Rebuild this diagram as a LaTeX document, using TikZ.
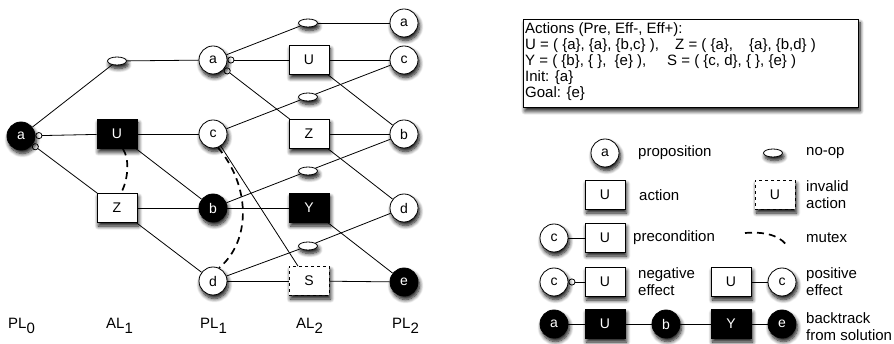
\documentclass[tikz,border=0pt]{standalone}
\usepackage{fontspec}
\setmainfont{Liberation Sans}
\usetikzlibrary{arrows.meta,shapes.geometric,shadows.blur}
\begin{document}
\begin{tikzpicture}[x=1pt,y=-1pt,
  shad/.style={blur shadow={shadow blur steps=8, shadow xshift=1.5pt, shadow yshift=-3.5pt, shadow blur radius=4pt, shadow opacity=95}},
  prop/.style={shad, circle, draw, line width=0.8pt, fill=white, minimum size=28pt, inner sep=0pt, font=\fontsize{14}{14}\selectfont},
  propsol/.style={prop, fill=black, text=white},
  act/.style={shad, rectangle, draw, line width=0.8pt, fill=white, minimum width=40pt, minimum height=29pt, inner sep=0pt, font=\fontsize{14}{14}\selectfont},
  actsol/.style={act, fill=black, text=white},
  actinv/.style={act, dashed},
  noop/.style={shad, ellipse, draw, line width=0.8pt, fill=white, minimum width=19pt, minimum height=8pt, inner sep=0pt},
  edge/.style={line width=0.8pt},
  negedge/.style={edge, {Circle[open, length=7pt, width=7pt]}-},
  mutexline/.style={line width=1.7pt, dash pattern=on 7pt off 5pt},
  lbl/.style={font=\fontsize{15}{17}\selectfont, align=left, anchor=west, inner sep=0pt},
  lvl/.style={font=\fontsize{15}{15}\selectfont, inner sep=0pt, anchor=base west},
]
\useasboundingbox (0,0) rectangle (894,344);

% ---- graph nodes ----
\node[propsol] (a0) at (21,136) {a};

\node[noop] (n1) at (117,61) {};
\node[actsol] (U1) at (117,134) {U};
\node[act] (Z1) at (117,208) {Z};

\node[prop] (a1) at (213,60) {a};
\node[prop] (c1) at (213,134) {c};
\node[propsol] (b1) at (213,208) {b};
\node[prop] (d1) at (213,281) {d};

\node[noop] (n2a) at (308,23) {};
\node[act] (U2) at (309,60) {U};
\node[noop] (n2c) at (308,97) {};
\node[act] (Z2) at (309,134) {Z};
\node[noop] (n2b) at (308,171) {};
\node[actsol] (Y2) at (309,208) {Y};
\node[noop] (n2d) at (308,246) {};
\node[actinv] (S2) at (309,281) {S};

\node[prop] (a2) at (404,23) {a};
\node[prop] (c2) at (404,60) {c};
\node[prop] (b2) at (404,134) {b};
\node[prop] (d2) at (404,208) {d};
\node[propsol] (e2) at (404,282) {e};

% ---- graph edges ----
\draw[edge] (a0) -- (n1);
\draw[negedge] (a0) -- (U1);
\draw[negedge] (a0) -- (Z1);
\draw[edge] (n1) -- (a1);
\draw[edge] (U1) -- (c1);
\draw[edge] (U1) -- (b1);
\draw[edge] (Z1) -- (b1);
\draw[edge] (Z1) -- (d1);

\draw[edge] (a1) -- (n2a);
\draw[negedge] (a1) -- (U2);
\draw[negedge] (a1) -- (Z2);
\draw[edge] (c1) -- (n2c);
\draw[edge] (c1) -- ([xshift=-11pt]S2.north);
\draw[edge] (b1) -- (n2b);
\draw[edge] (b1) -- (Y2);
\draw[edge] (d1) -- (n2d);
\draw[edge] (d1) -- (S2);

\draw[edge] (n2a) -- (a2);
\draw[edge] (U2) -- (c2);
\draw[edge] (U2) -- (b2);
\draw[edge] (n2c) -- (c2);
\draw[edge] (Z2) -- (b2);
\draw[edge] (Z2) -- (d2);
\draw[edge] (n2b) -- (b2);
\draw[edge] (Y2) -- (e2);
\draw[edge] (n2d) -- (d2);
\draw[edge] (S2) -- (e2);

% mutexes
\draw[mutexline] ([xshift=6pt]U1.south) .. controls (130,160) and (128,180) .. ([xshift=4pt]Z1.north);
\draw[mutexline] (c1.-70) .. controls (250,185) and (252,240) .. (d1.65);

% level labels
\node[lvl] (l0) at (8,329) {PL\raisebox{-5pt}{0}};
\node[lvl] (l1) at (106,329) {AL\raisebox{-5pt}{1}};
\node[lvl] (l2) at (200,329) {PL\raisebox{-5pt}{1}};
\node[lvl] (l3) at (296,329) {AL\raisebox{-5pt}{2}};
\node[lvl] (l4) at (392,329) {PL\raisebox{-5pt}{2}};

% ---- text box ----
\node[shad, draw, line width=1pt, fill=white, minimum width=335pt, minimum height=88pt, anchor=north west, inner sep=0pt] (tbox) at (523,19) {};
\node[anchor=north west, inner sep=0pt, align=left, font=\fontsize{15}{16}\selectfont] (ttext) at (525,22.5) {%
Actions (Pre, Eff-, Eff+):\\
\makebox[150pt][l]{U = ( \{a\}, \{a\}, \{b,c\} ),}Z = ( \{a\},\hspace{16pt}\{a\}, \{b,d\} )\\
\makebox[142pt][l]{Y = ( \{b\}, \{ \},\hspace{4pt} \{e\} ),}S = ( \{c, d\}, \{ \}, \{e\} )\\
Init: \{a\}\\
Goal: \{e\}};

% ---- legend ----
\node[prop] (lgA) at (605,153) {a};
\node[lbl] (tA) at (638,153) {proposition};
\node[noop] (lgN) at (773,153) {};
\node[lbl] (tN) at (806,153) {no-op};

\node[act] (lgU) at (605,195) {U};
\node[lbl] (tU) at (639,195) {action};
\node[actinv] (lgI) at (775,195) {U};
\node[lbl] (tI) at (806,195) {invalid\\action};

\node[prop] (lgPc) at (554,238) {c};
\node[act] (lgPu) at (605,238) {U};
\draw[edge] (lgPc) -- (lgPu);
\node[lbl] (tP) at (633,238) {precondition};
\coordinate (mx1) at (745,233);
\coordinate (mx2) at (788,247);
\draw[mutexline] (mx1) .. controls (770,231) and (782,238) .. (mx2);
\node[lbl] (tM) at (806,238) {mutex};

\node[prop] (lgNc) at (554,282) {c};
\node[act] (lgNu) at (605,282) {U};
\draw[negedge] (lgNc) -- (lgNu);
\node[lbl] (tNe) at (638,282) {negative\\effect};
\node[act] (lgPu2) at (731,282) {U};
\node[prop] (lgPc2) at (782,282) {c};
\draw[edge] (lgPu2) -- (lgPc2);
\node[lbl] (tPe) at (806,282) {positive\\effect};

\node[propsol] (lgBa) at (554,324) {a};
\node[actsol] (lgBu) at (605,324) {U};
\node[propsol] (lgBb) at (666,324) {b};
\node[actsol] (lgBy) at (731,324) {Y};
\node[propsol] (lgBe) at (782,324) {e};
\draw[edge] (lgBa) -- (lgBu);
\draw[edge] (lgBu) -- (lgBb);
\draw[edge] (lgBb) -- (lgBy);
\draw[edge] (lgBy) -- (lgBe);
\node[lbl] (tB) at (806,327) {backtrack\\from solution};
\end{tikzpicture}
\end{document}
